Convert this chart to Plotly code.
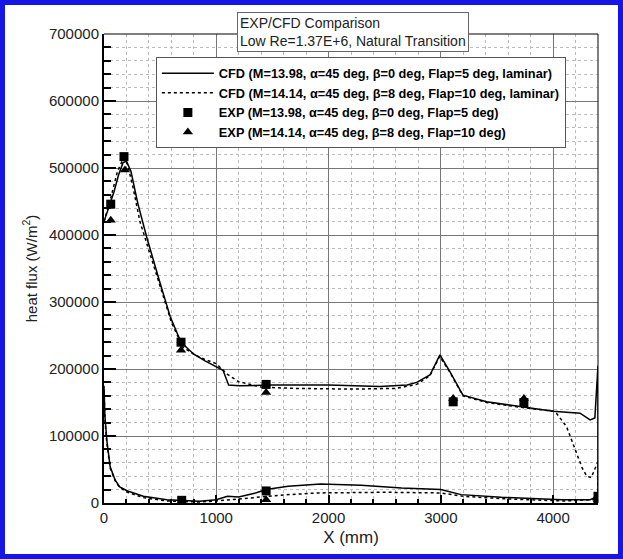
import plotly.graph_objects as go

# ---------------- data ----------------
# CFD M=13.98 (solid): windward branch, then leeward branch back to x=0
cfd1_up_x = [0, 40, 90, 130, 170, 200, 240, 300, 380, 500, 590, 686, 800, 900, 1000, 1060, 1110, 1200,
             1500, 2000, 2458, 2700, 2785, 2903, 2992, 3081, 3197, 3408, 3704, 4000, 4240, 4330, 4372, 4400]
cfd1_up_y = [420000, 440000, 465000, 490000, 508000, 510000, 495000, 448000, 397000, 328000, 278000, 240000,
             222000, 212000, 204000, 198000, 176000, 175000, 176000, 176000, 174000, 176000, 180000, 191000,
             221000, 196000, 161000, 151000, 144000, 137000, 134000, 124000, 127000, 205000]
cfd1_lo_x = [4400, 4330, 4080, 3540, 3180, 3000, 2650, 2290, 1930, 1640, 1444, 1350, 1200, 1100, 1000,
             850, 560, 350, 210, 140, 100, 55, 25, 8, 0]
cfd1_lo_y = [10000, 5000, 5000, 8500, 12500, 20000, 22500, 26500, 28500, 25000, 20000, 15000, 9000, 10000,
             5000, 2500, 5000, 10000, 18000, 24000, 34000, 54000, 94000, 130000, 175000]

# CFD M=14.14 (dotted)
cfd2_up_x = [0, 60, 120, 175, 210, 260, 320, 400, 500, 600, 700, 800, 900, 1000, 1100, 1200, 1400, 1700,
             2200, 2600, 2785, 2903, 2990, 3081, 3197, 3408, 3704, 4000, 4030, 4120, 4210, 4260, 4300, 4340,
             4370, 4400]
cfd2_up_y = [420000, 455000, 495000, 515000, 505000, 470000, 420000, 378000, 322000, 270000, 233000,
             222000, 214000, 208000, 192000, 181000, 173000, 171000, 170000, 171000, 177000, 190000, 219000,
             195000, 160000, 150000, 143000, 137000, 134000, 114000, 74000, 52000, 40000, 38000, 50000, 62000]
cfd2_lo_x = [4400, 4350, 4100, 3600, 3200, 3000, 2500, 1900, 1600, 1444, 1200, 1000, 850, 560, 350, 210,
             140, 100, 55, 25, 8, 0]
cfd2_lo_y = [8000, 5000, 3000, 6000, 10000, 15000, 16000, 15000, 12000, 10000, 6000, 3000, 1500, 3000, 8000,
             16000, 23000, 33000, 52000, 90000, 125000, 170000]

# EXP data
exp1_x = [60, 178, 686, 1444, 3110, 3740, 692, 1444, 4400, 4400]
exp1_y = [446000, 517000, 240000, 177000, 151000, 150000, 4000, 18000, 10000, 3000]
exp2_x = [60, 187, 686, 1444, 3110, 3740, 692, 1444, 4400]
exp2_y = [422000, 497000, 228000, 165000, 156000, 156000, 1000, 5000, 5000]

names = [
    "CFD (M=13.98, \u03b1=45 deg, \u03b2=0 deg, Flap=5 deg, laminar)",
    "CFD (M=14.14, \u03b1=45 deg, \u03b2=8 deg, Flap=10 deg, laminar)",
    "EXP (M=13.98, \u03b1=45 deg, \u03b2=0 deg, Flap=5 deg)",
    "EXP (M=14.14, \u03b1=45 deg, \u03b2=8 deg, Flap=10 deg)",
]
title_lines = ["EXP/CFD Comparison", "Low Re=1.37E+6, Natural Transition"]
x_title = "X (mm)"
y_title = "heat flux (W/m<sup>2</sup>)"
x_range = [0, 4400]
y_range = [0, 700000]

# ---------------- figure ----------------
fig = go.Figure()
fig.add_trace(go.Scatter(x=cfd1_up_x + cfd1_lo_x, y=cfd1_up_y + cfd1_lo_y, mode="lines",
                         line=dict(color="black", width=1.5), name=names[0]))
fig.add_trace(go.Scatter(x=cfd2_up_x + cfd2_lo_x, y=cfd2_up_y + cfd2_lo_y, mode="lines",
                         line=dict(color="black", width=1.5, dash="dot"), name=names[1]))
fig.add_trace(go.Scatter(x=exp1_x, y=exp1_y, mode="markers",
                         marker=dict(symbol="square", size=9, color="black"), name=names[2]))
fig.add_trace(go.Scatter(x=exp2_x, y=exp2_y, mode="markers",
                         marker=dict(symbol="triangle-up", size=9, color="black"), name=names[3]))

font_family = "Liberation Sans, Arial, sans-serif"
axis_common = dict(
    showline=True, linecolor="black", linewidth=2, ticks="inside", tickcolor="black",
    showgrid=True, gridcolor="#777777", gridwidth=1, zeroline=False,
    tickfont=dict(family=font_family, size=15, color="#222222"),
)
fig.update_xaxes(range=x_range, dtick=1000, tick0=0, ticklen=8, tickwidth=1.5,
                 title=dict(text=x_title, font=dict(family=font_family, size=17, color="#222222"), standoff=6),
                 minor=dict(dtick=200, showgrid=True, gridcolor="#bbbbbb", griddash="dot", ticks="inside",
                            ticklen=4, tickcolor="black"),
                 **axis_common)
fig.update_yaxes(range=y_range, dtick=100000, tick0=0, ticklen=12, tickwidth=1.5, tickformat="d",
                 title=dict(text=y_title, font=dict(family=font_family, size=15, color="#222222"), standoff=8),
                 minor=dict(dtick=20000, showgrid=True, gridcolor="#bbbbbb", griddash="dot", ticks="inside",
                            ticklen=7, tickcolor="black"),
                 **axis_common)

fig.update_layout(
    width=623, height=559,
    margin=dict(l=104, r=25, t=34, b=56),
    paper_bgcolor="white", plot_bgcolor="white",
    font=dict(family=font_family, color="black"),
    legend=dict(x=0.105, y=0.95, xanchor="left", yanchor="top", bgcolor="white",
                bordercolor="#555555", borderwidth=1, itemwidth=52,
                font=dict(family=font_family, size=12.75, color="black", weight="bold"),
                tracegroupgap=0),
    annotations=[dict(text="<br>".join(title_lines), xref="paper", yref="paper", x=0.269, y=1.047,
                      xanchor="left", yanchor="top", align="left", showarrow=False,
                      font=dict(family=font_family, size=14, color="#222222"),
                      bordercolor="#666666", borderwidth=1, borderpad=2, bgcolor="white")],
    shapes=[
        # plot frame top / right
        dict(type="line", xref="paper", yref="paper", x0=0, x1=1, y0=1, y1=1, line=dict(color="black", width=1)),
        dict(type="line", xref="paper", yref="paper", x0=1, x1=1, y0=0, y1=1, line=dict(color="black", width=1)),
        # blue page border
        dict(type="rect", xref="paper", yref="paper", x0=-0.2055, x1=1.0455, y0=-0.114, y1=1.067,
             line=dict(color="#1515e6", width=5), layer="above"),
    ],
)

fig.write_html("out.html")
